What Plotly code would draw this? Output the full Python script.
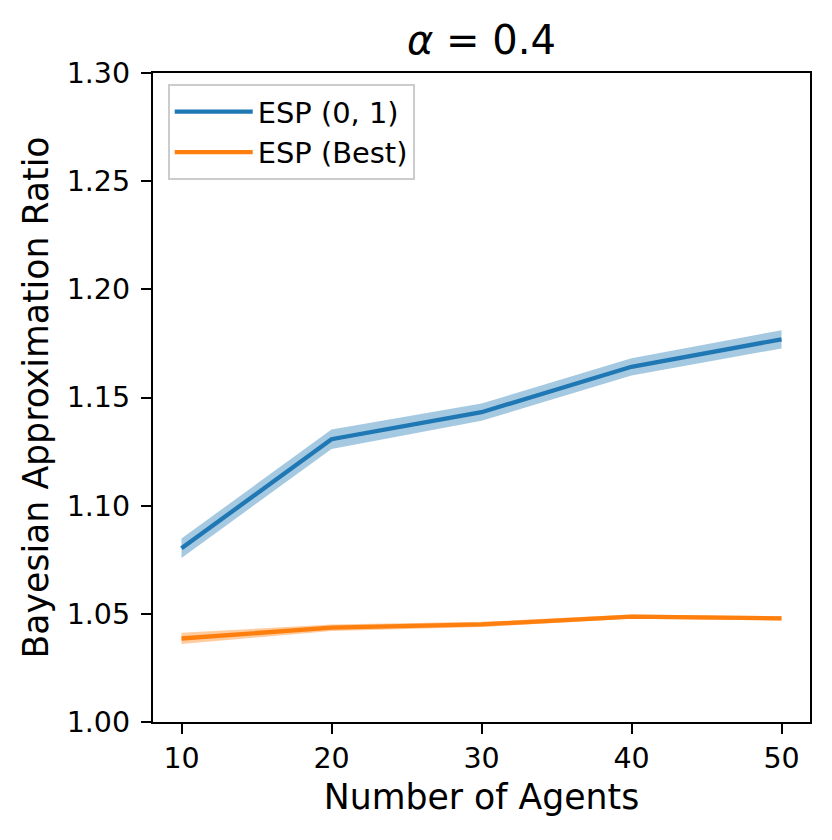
import plotly.graph_objects as go

agents = [10, 20, 30, 40, 50]
esp01_mean = [1.0803, 1.1307, 1.1432, 1.1642, 1.1769]
esp01_err = [0.0045, 0.0045, 0.0040, 0.0040, 0.0042]
espbest_mean = [1.0386, 1.0436, 1.0451, 1.0487, 1.0479]
espbest_err = [0.0026, 0.0015, 0.0012, 0.0010, 0.0010]
y_ticks = [1.0, 1.05, 1.1, 1.15, 1.2, 1.25, 1.3]

series = [
    ("ESP (0, 1)", esp01_mean, esp01_err, "#1f77b4", "rgba(31,119,180,0.4)"),
    ("ESP (Best)", espbest_mean, espbest_err, "#ff7f0e", "rgba(255,127,14,0.4)"),
]

fig = go.Figure()
for name, m, e, c, fc in series:
    upper = [a + b for a, b in zip(m, e)]
    lower = [a - b for a, b in zip(m, e)]
    fig.add_trace(go.Scatter(
        x=agents + agents[::-1], y=upper + lower[::-1],
        fill="toself", fillcolor=fc, line=dict(width=0),
        mode="lines", showlegend=False, hoverinfo="skip"))
for name, m, e, c, fc in series:
    fig.add_trace(go.Scatter(x=agents, y=m, mode="lines", name=name,
                             line=dict(color=c, width=4.3)))

axis_common = dict(
    showgrid=False, zeroline=False, showline=True, linecolor="black",
    linewidth=2.3, mirror=True, ticks="outside", ticklen=10, tickwidth=2.3,
    tickcolor="black", tickfont=dict(size=28.5, color="black"),
)
fig.update_xaxes(range=[8.1, 51.9], tickvals=agents,
                 title=dict(text="Number of Agents", font=dict(size=34.7, color="black"), standoff=10),
                 **axis_common)
fig.update_yaxes(range=[1.0, 1.3], tickvals=y_ticks,
                 tickformat=".2f", ticklabelstandoff=5,
                 title=dict(text="Bayesian Approximation Ratio", font=dict(size=34.7, color="black"), standoff=8),
                 **axis_common)

fig.update_layout(
    width=832, height=840,
    margin=dict(l=145, r=30, t=65, b=126),
    paper_bgcolor="white", plot_bgcolor="white",
    font=dict(family="DejaVu Sans", color="black"),
    title=dict(text="<i>α</i> = 0.4", x=0.5, xref="paper", xanchor="center",
               y=0.9625, yref="container", yanchor="middle",
               font=dict(size=40, color="black")),
    legend=dict(x=0.0224, y=0.9826, xanchor="left", yanchor="top",
                bordercolor="#cccccc", borderwidth=2, bgcolor="rgba(255,255,255,0.8)",
                font=dict(size=28.9, color="black"), itemwidth=78),
)

fig.write_html("out.html")
